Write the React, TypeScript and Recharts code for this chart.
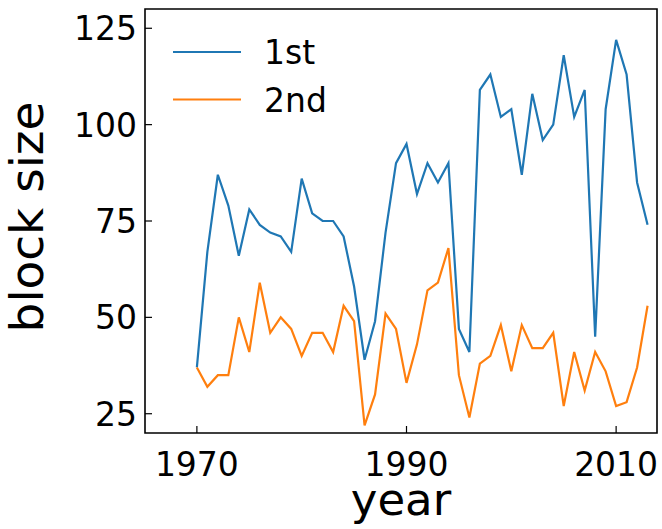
import React from 'react';
import {
  LineChart,
  Line,
  XAxis,
  YAxis,
  Legend,
  ReferenceArea,
} from 'recharts';

const years = [
  1970, 1971, 1972, 1973, 1974, 1975, 1976, 1977, 1978, 1979,
  1980, 1981, 1982, 1983, 1984, 1985, 1986, 1987, 1988, 1989,
  1990, 1991, 1992, 1993, 1994, 1995, 1996, 1997, 1998, 1999,
  2000, 2001, 2002, 2003, 2004, 2005, 2006, 2007, 2008, 2009,
  2010, 2011, 2012, 2013,
];

const first = [
  37, 67, 87, 79, 66, 78, 74, 72, 71, 67,
  86, 77, 75, 75, 71, 58, 39, 49, 72, 90,
  95, 82, 90, 85, 90, 47, 41, 109, 113, 102,
  104, 87, 108, 96, 100, 118, 102, 109, 45, 104,
  122, 113, 85, 74,
];

const second = [
  37, 32, 35, 35, 50, 41, 59, 46, 50, 47,
  40, 46, 46, 41, 53, 49, 22, 30, 51, 47,
  33, 43, 57, 59, 68, 35, 24, 38, 40, 48,
  36, 48, 42, 42, 46, 27, 41, 31, 41, 36,
  27, 28, 37, 53,
];

const xTicks = [1970, 1990, 2010];
const yTicks = [25, 50, 75, 100, 125];
const xDomain = [1965.05, 2013.9];
const yDomain = [20, 130];

const series = [
  { key: 'first', name: '1st', color: '#1f77b4' },
  { key: 'second', name: '2nd', color: '#ff7f0e' },
];

const chartData = years.map((year, i) => ({
  year,
  first: first[i],
  second: second[i],
}));

const FONT = '"DejaVu Sans", sans-serif';

const XTick = (props: any) => {
  const { x, y, payload } = props;
  return (
    <g>
      <line x1={x} y1={y} x2={x} y2={y - 7} stroke="#000" strokeWidth={1.2} />
      <text x={x} y={y + 43} textAnchor="middle" fontSize={33} fontFamily={FONT} fill="#000">
        {payload.value}
      </text>
    </g>
  );
};

const YTick = (props: any) => {
  const { x, y, payload } = props;
  return (
    <g>
      <line x1={x} y1={y} x2={x + 7} y2={y} stroke="#000" strokeWidth={1.2} />
      <text x={x - 8} y={y} dy={12} textAnchor="end" fontSize={33} fontFamily={FONT} fill="#000">
        {payload.value}
      </text>
    </g>
  );
};

const LegendBox = () => (
  <svg width={220} height={110} style={{ display: 'block' }}>
    {series.map((s, i) => (
      <g key={s.key}>
        <line x1={13} x2={81} y1={22 + i * 47.5} y2={22 + i * 47.5} stroke={s.color} strokeWidth={2.2} />
        <text x={104} y={34 + i * 47.5} fontSize={33} fontFamily={FONT} fill="#000">
          {s.name}
        </text>
      </g>
    ))}
  </svg>
);

export default function App() {
  return (
    <div style={{ position: 'absolute', left: 0, top: 0, background: '#fff' }}>
      <LineChart
        width={662}
        height={529}
        data={chartData}
        margin={{ top: 9, right: 5, bottom: 0, left: 0 }}
      >
        <XAxis
          dataKey="year"
          type="number"
          domain={xDomain}
          ticks={xTicks}
          allowDataOverflow
          height={96}
          tickSize={0}
          tickMargin={0}
          axisLine={false}
          tickLine={false}
          tick={<XTick />}
          label={{
            content: () => (
              <text x={401} y={515} textAnchor="middle" fontSize={45} fontFamily={FONT} fill="#000">
                year
              </text>
            ),
          }}
        />
        <YAxis
          type="number"
          domain={yDomain}
          ticks={yTicks}
          allowDataOverflow
          width={145}
          tickSize={0}
          tickMargin={0}
          axisLine={false}
          tickLine={false}
          tick={<YTick />}
          label={{
            content: () => (
              <text
                x={43}
                y={217}
                transform="rotate(-90, 43, 217)"
                textAnchor="middle"
                fontSize={47}
                fontFamily={FONT}
                fill="#000"
              >
                block size
              </text>
            ),
          }}
        />
        <Legend
          layout="vertical"
          align="center"
          verticalAlign="middle"
          wrapperStyle={{ left: 160, top: 30, width: 220 }}
          content={() => <LegendBox />}
        />
        {series.map((s) => (
          <Line
            key={s.key}
            type="linear"
            dataKey={s.key}
            name={s.name}
            stroke={s.color}
            strokeWidth={2.2}
            dot={false}
            activeDot={false}
            isAnimationActive={false}
          />
        ))}
        <ReferenceArea
          x1={xDomain[0]}
          x2={xDomain[1]}
          y1={yDomain[0]}
          y2={yDomain[1]}
          fill="none"
          fillOpacity={0}
          stroke="#000"
          strokeWidth={1.6}
          ifOverflow="visible"
        />
      </LineChart>
    </div>
  );
}
